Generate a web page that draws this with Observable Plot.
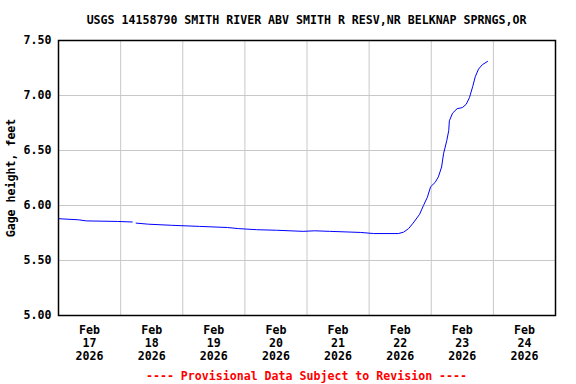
<!DOCTYPE html>
<html>
<head>
<meta charset="utf-8">
<script src="https://cdn.jsdelivr.net/npm/d3@7"></script>
<script src="https://cdn.jsdelivr.net/npm/@observablehq/plot@0.6"></script>
<style>
  html, body { margin: 0; padding: 0; background: #fff; }
  #wrap { width: 576px; height: 384px; position: relative; font-family: "DejaVu Sans Mono", monospace; font-weight: bold; }
  #title { position: absolute; left: 0; top: 13px; width: 613px; text-align: center; font-size: 11.6px; color: #000; }
  #chart { position: absolute; left: 0; top: 30px; }
  #caption { position: absolute; left: 0; top: 369px; width: 613px; text-align: center; font-size: 11.6px; color: #ff0000; }
</style>
</head>
<body>
<div id="wrap">
  <div id="title">USGS 14158790 SMITH RIVER ABV SMITH R RESV,NR BELKNAP SPRNGS,OR</div>
  <div id="chart"></div>
  <div id="caption">---- Provisional Data Subject to Revision ----</div>
</div>
<script>
// Observation times (UTC) and gage heights (ft); null marks a gap in the record
const times = [
  "2026-02-17T00:00", "2026-02-17T07:45", "2026-02-17T10:45", "2026-02-17T22:45",
  "2026-02-18T04:30", "2026-02-18T05:15", "2026-02-18T06:00", "2026-02-18T10:45",
  "2026-02-18T19:45", "2026-02-19T06:30", "2026-02-19T17:15", "2026-02-19T21:30",
  "2026-02-20T04:30", "2026-02-20T12:15", "2026-02-20T22:30", "2026-02-21T03:00",
  "2026-02-21T08:45", "2026-02-21T20:45", "2026-02-22T01:45", "2026-02-22T11:15",
  "2026-02-22T13:15", "2026-02-22T15:15", "2026-02-22T17:00", "2026-02-22T19:30",
  "2026-02-22T21:00", "2026-02-22T22:30", "2026-02-22T23:45", "2026-02-23T01:30",
  "2026-02-23T02:45", "2026-02-23T04:00", "2026-02-23T04:45", "2026-02-23T06:00",
  "2026-02-23T06:45", "2026-02-23T07:00", "2026-02-23T08:15", "2026-02-23T10:00",
  "2026-02-23T12:00", "2026-02-23T13:30", "2026-02-23T14:45", "2026-02-23T16:00",
  "2026-02-23T17:00", "2026-02-23T18:15", "2026-02-23T19:45", "2026-02-23T21:45"
];
const heights = [
  5.88, 5.87, 5.86, 5.855,
  5.85, null, 5.84, 5.83,
  5.82, 5.81, 5.80, 5.79,
  5.78, 5.775, 5.765, 5.77,
  5.765, 5.755, 5.745, 5.745,
  5.757, 5.79, 5.84, 5.92,
  6.00, 6.075, 6.17, 6.21,
  6.26, 6.35, 6.47, 6.59,
  6.68, 6.77, 6.84, 6.88,
  6.89, 6.92, 6.98, 7.08,
  7.17, 7.24, 7.28, 7.31
];
// Axis ticks
const dayLabels = ["17", "18", "19", "20", "21", "22", "23", "24"];
const monthLabel = "Feb";
const yearLabel = "2026";
const yTicks = [5.00, 5.50, 6.00, 6.50, 7.00, 7.50];

const parse = s => new Date(s + ":00Z");
const data = times.map((t, i) => ({ date: parse(t), value: heights[i] }));
const labelDates = dayLabels.map(d => new Date(`2026-02-${d}T12:00:00Z`));
const gridDates = dayLabels.slice(1).map(d => new Date(`2026-02-${d}T00:00:00Z`));
const labelMap = new Map(labelDates.map((d, i) => [+d, `${monthLabel}\n${dayLabels[i]}\n${yearLabel}`]));

const chart = Plot.plot({
  width: 576,
  height: 335,
  marginTop: 10,
  marginBottom: 50,
  marginLeft: 58,
  marginRight: 21,
  style: { fontFamily: "DejaVu Sans Mono, monospace", fontWeight: "bold", fontSize: "11.6px", color: "#000", background: "#fff" },
  x: { type: "utc", domain: [new Date("2026-02-17T00:00:00Z"), new Date("2026-02-25T00:00:00Z")] },
  y: { domain: [5, 7.5] },
  marks: [
    Plot.gridX(gridDates, { stroke: "#c8c8c8", strokeOpacity: 1 }),
    Plot.gridY(yTicks, { stroke: "#c8c8c8", strokeOpacity: 1 }),
    Plot.lineY(data, { x: "date", y: "value", stroke: "#0000ff", strokeWidth: 1 }),
    Plot.axisX(labelDates, { tickSize: 0, tickPadding: 9, tickFormat: d => labelMap.get(+d), lineHeight: 1.12, label: null, fontSize: "11.6px" }),
    Plot.axisY(yTicks, { tickSize: 0, tickPadding: 7, tickFormat: d => d.toFixed(2), label: "Gage height, feet", labelAnchor: "center", labelArrow: "none", labelOffset: 52, fontSize: "11.6px" }),
    Plot.frame({ stroke: "#000", strokeWidth: 1.5 })
  ]
});
document.getElementById("chart").appendChild(chart);
</script>
</body>
</html>
